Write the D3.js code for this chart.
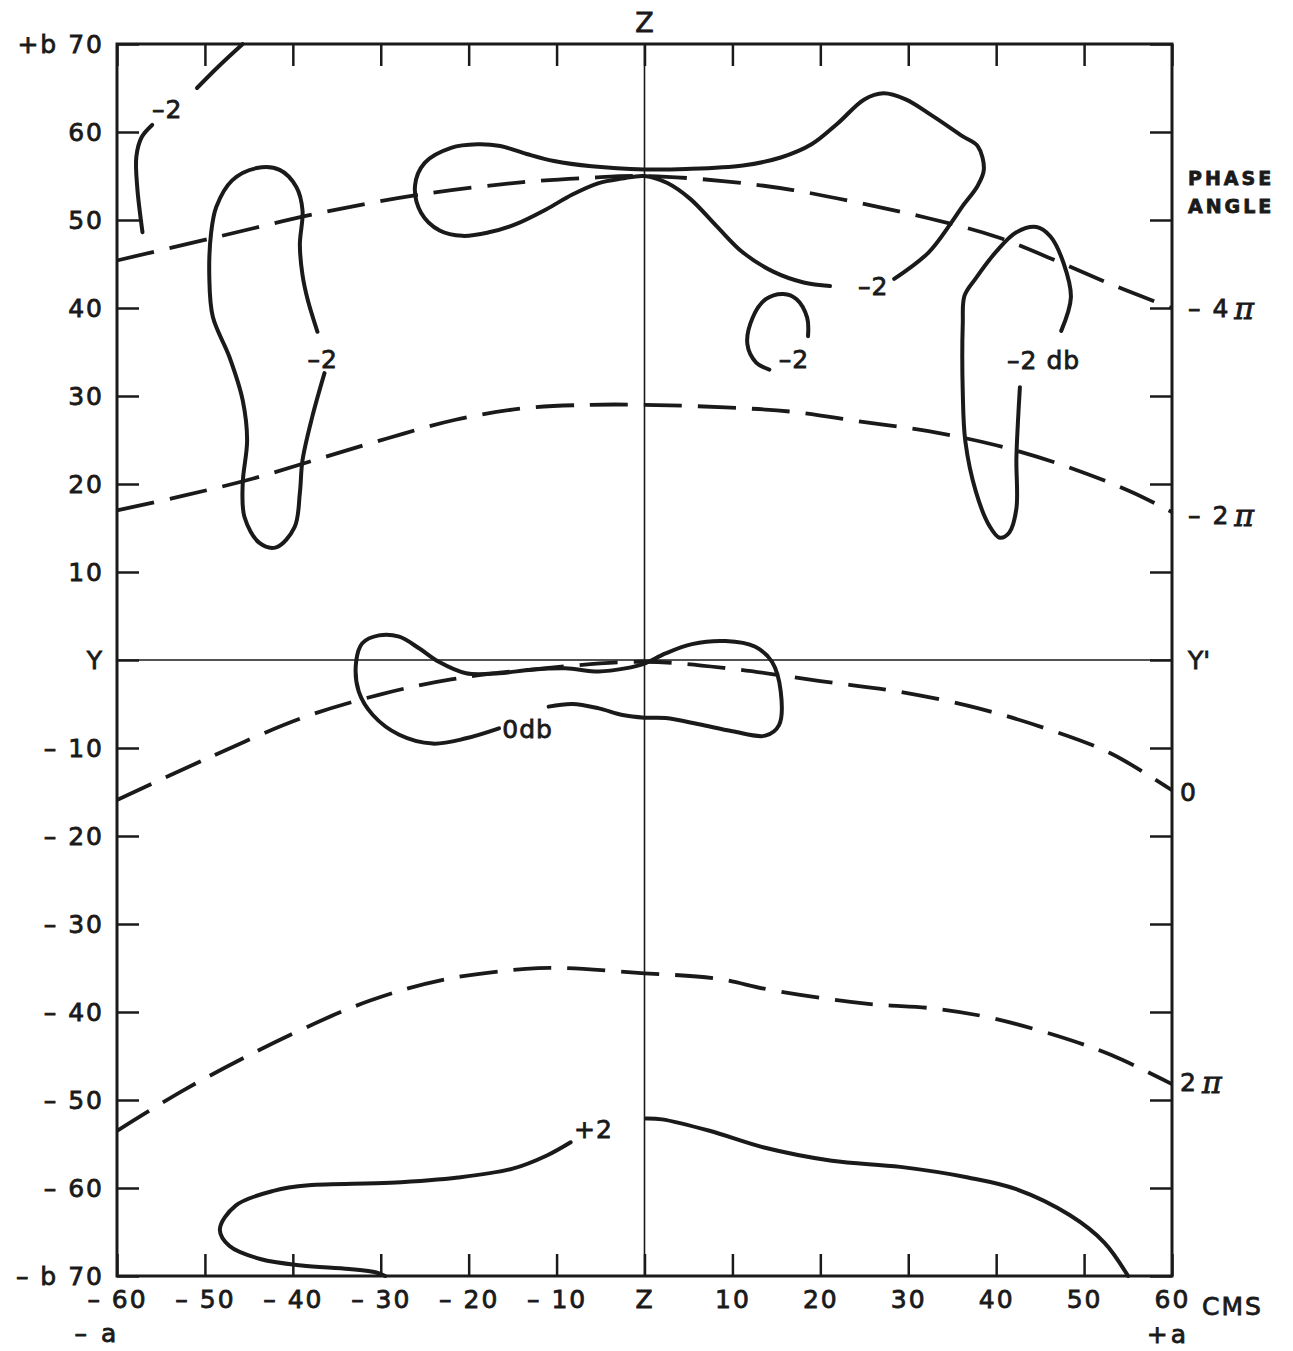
<!DOCTYPE html>
<html>
<head>
<meta charset="utf-8">
<title>Aperture field contours - amplitude and phase</title>
<script src="https://d3js.org/d3.v7.min.js" charset="utf-8"></script>
<style>
    html, body { margin: 0; padding: 0; background: #fff; }
    text { font-family: "DejaVu Sans", "Liberation Sans", sans-serif; fill: #1a1a1a; stroke: #1a1a1a; stroke-width: 0.8px; }
</style>
</head>
<body>
<div id="chart"></div>
<script>
// ---- tick values and labels ----
const xTicks = [-60, -50, -40, -30, -20, -10, 0, 10, 20, 30, 40, 50, 60];
const xTickLabels = ["\u2013 60", "\u2013 50", "\u2013 40", "\u2013 30", "\u2013 20", "\u2013 10", "Z", "10", "20", "30", "40", "50", "60"];
const yTicks = [70, 60, 50, 40, 30, 20, 10, 0, -10, -20, -30, -40, -50, -60, -70];
const yTickLabels = ["+b 70", "60", "50", "40", "30", "20", "10", "Y", "\u2013 10", "\u2013 20", "\u2013 30", "\u2013 40",
    "\u2013 50", "\u2013 60", "\u2013 b 70"];

// ---- phase angle contours (dashed), [x cm, y cm] ----
const phaseMinus4Pi = [[-60, 45.4], [-48.5, 48.1], [-36.9, 50.8], [-25.4, 52.9], [-13.8, 54.3], [-6.2, 54.8], [0, 55],
    [9.2, 54.4], [16.9, 53.4], [24.6, 51.9], [32.3, 50.2], [40, 48.1], [47.7, 45], [53.8, 42.4], [60, 40]];
const phaseMinus2Pi = [[-60, 17], [-52.3, 18.7], [-44.6, 20.6], [-36.9, 22.9], [-29.2, 25.2], [-21.5, 27.3], [-13.8, 28.6],
    [-6.2, 29], [0, 29], [9.2, 28.7], [16.9, 28.2], [24.6, 27.1], [32.3, 26], [40, 24.4], [47.7, 22.1], [55.4, 19.1], [60, 16.8]];
const phaseZero = [[-60, -15.9], [-50, -11.3], [-39, -6.6], [-30, -3.9], [-22, -2.2], [-12, -1], [0, -0.2],
    [10, -1], [20, -2.4], [29, -3.6], [38, -5.5], [46, -7.9], [53, -10.6], [60, -14.8]];
const phasePlus2Pi = [[-60, -53.5], [-52.1, -48.7], [-40.5, -42.7], [-31.2, -38.7], [-22.7, -36.3], [-13.5, -35.1], [-9.6, -35],
    [0, -35.6], [8.2, -36.2], [14.4, -37.5], [25.2, -39.05], [32.9, -39.6], [39.1, -40.6], [46.9, -42.7], [53.1, -44.9], [60, -48.2]];

// ---- amplitude contours (solid), [x cm, y cm] ----
const minus2TopLeftA = [[-57.1, 48.6], [-57.7, 53.75], [-57.8, 57.2], [-57.2, 59.4], [-56, 60.8]];
const minus2TopLeftB = [[-50.9, 65], [-48.4, 67.5], [-45.7, 70]];
const minus2LeftLoop = [[-37.2, 37.3], [-38.3, 40.9], [-38.9, 43.75], [-39.2, 47.2], [-38.9, 51.1], [-39.6, 53.75],
    [-41.5, 55.7], [-44.1, 55.9], [-46.9, 54.5], [-48.7, 51.5], [-49.3, 48.5], [-49.5, 43.5], [-49.1, 39], [-47.2, 34.4],
    [-45.7, 29.5], [-45.2, 25], [-45.7, 20.1], [-45.5, 16.25], [-43.8, 13.3], [-41.9, 12.8], [-39.8, 15.1], [-39.2, 19],
    [-38.9, 22.7], [-37.8, 27.6], [-36.4, 32.6]];
const minus2Centre = [[28.4, 43.3], [32.3, 46.3], [34.9, 49.7], [36.2, 51.6], [37.9, 53.9], [38.6, 55.75], [37.9, 58.4],
    [36.2, 59.5], [32.8, 61.8], [29.7, 63.7], [27.2, 64.4], [25, 63.7], [22, 61], [19, 58.6], [15.5, 57.1], [11.2, 56.2],
    [4.7, 55.8], [0, 55.75], [-6, 56.1], [-10.3, 56.7], [-13.4, 57.5], [-16.4, 58.4], [-19, 58.6], [-22, 58.2], [-25, 56.5],
    [-26.1, 53.9], [-25.4, 50.8], [-23.3, 48.8], [-20.7, 48.2], [-17.7, 48.6], [-14.7, 49.5], [-11.2, 51.2], [-8.2, 52.9],
    [-5.2, 54.2], [-2.6, 54.7], [0, 55], [2.6, 54.2], [5.2, 52.4], [8.2, 49.3], [11.2, 46.3], [14.7, 44.1], [18.1, 42.9],
    [21.1, 42.5]];
const minus2Small = [[18.6, 36.8], [18.5, 38.9], [17.3, 41], [15.8, 41.6], [13.8, 41], [12.3, 38.9], [11.7, 35.9],
    [12.7, 33.8], [14.2, 33]];
const minus2RightLoop = [[47.4, 37.4], [48.5, 41.2], [47.7, 45], [46.2, 48.1], [44.6, 49.2], [42.3, 48.6], [40, 46.4],
    [37.7, 43.4], [36.4, 41.4], [36.2, 38.2], [36.2, 30.5], [36.5, 24.8], [37.7, 19.1], [39.2, 15.3], [40.4, 13.9],
    [41.5, 14.5], [42.3, 17.2], [42.3, 22.9], [42.5, 27.5], [42.7, 31]];
const zeroDb = [[-16.55, -7.77], [-20.3, -8.9], [-24.1, -9.5], [-27.9, -8.5], [-30.9, -6.25], [-32.5, -3.6], [-32.8, -0.2],
    [-32.1, 1.9], [-30.2, 2.8], [-27.9, 2.65], [-25.6, 1.3], [-23.4, -0.2], [-20.3, -1.5], [-16.55, -1.5], [-12.8, -1.1],
    [-9, -0.95], [-5.2, -1.3], [-2.2, -0.95], [0, -0.4], [2.4, 0.75], [5.4, 1.8], [9.2, 2.15], [12.6, 1.5], [14.5, -0.2],
    [15.5, -3.6], [15.3, -7.4], [13.75, -8.6], [10, -8.1], [6.2, -7.3], [2.4, -6.6], [0, -6.55], [-2.5, -6.25],
    [-5.2, -5.5], [-8.2, -5.0], [-10.9, -5.3]];
const plus2Right = [[0.15, -52.1], [2, -52.2], [7.4, -53.5], [13.6, -55.4], [21.3, -56.9], [29.1, -57.6], [36.8, -58.8],
    [42.2, -60.1], [48.4, -63.1], [52.3, -66.2], [55, -70]];
const plus2Left = [[-8.4, -54.8], [-11.1, -56.3], [-15, -57.8], [-21.2, -58.8], [-28.9, -59.4], [-38.2, -59.7],
    [-42.1, -60.3], [-46.5, -62], [-48.3, -64.7], [-47.2, -66.6], [-43.6, -68.1], [-39, -68.8], [-33.6, -69.2],
    [-30.5, -69.6], [-29.5, -70]];

// contour labels
const contourLabels = [
    { text: "\u20132", x: -54.3, y: 62.6 },
    { text: "\u20132", x: -36.6, y: 34.1 },
    { text: "\u20132", x: 26.0, y: 42.4 },
    { text: "\u20132", x: 17.0, y: 34.1 },
    { text: "\u20132 db", x: 45.4, y: 34.0 },
    { text: "0db", x: -13.3, y: -7.9 },
    { text: "+2", x: -5.8, y: -53.4 }
];

// phase angle values at the right-hand ends of the dashed lines
const phaseNames = ["\u2013 4", "\u2013 2", "0", "2"];
const phasePi = [true, true, false, true];
const phaseEnds = [40, 16.5, -15, -48];

// ---- drawing ----
const width = 1293, height = 1351;
const svg = d3.select("#chart").append("svg")
    .attr("width", width)
    .attr("height", height);

const x = d3.scaleLinear().domain([-60, 60]).range([117, 1172]);
const y = d3.scaleLinear().domain([-70, 70]).range([1276, 44]);
const ink = "#1a1a1a";

// axes with inward ticks
const tickLen = -22;
const bottomAxis = svg.append("g")
    .attr("transform", `translate(0, ${y(-70)})`)
    .call(d3.axisBottom(x).tickValues(xTicks).tickFormat((d, i) => xTickLabels[i])
        .tickSizeInner(tickLen).tickSizeOuter(0).tickPadding(13));
const topAxis = svg.append("g")
    .attr("transform", `translate(0, ${y(70)})`)
    .call(d3.axisTop(x).tickValues(xTicks).tickFormat("").tickSizeInner(tickLen).tickSizeOuter(0));
const leftAxis = svg.append("g")
    .attr("transform", `translate(${x(-60)}, 0)`)
    .call(d3.axisLeft(y).tickValues(yTicks).tickFormat((d, i) => yTickLabels[i])
        .tickSizeInner(tickLen).tickSizeOuter(0).tickPadding(13));
const rightAxis = svg.append("g")
    .attr("transform", `translate(${x(60)}, 0)`)
    .call(d3.axisRight(y).tickValues(yTicks).tickFormat("").tickSizeInner(tickLen).tickSizeOuter(0));

[bottomAxis, topAxis, leftAxis, rightAxis].forEach(g => {
    g.select(".domain").remove();
    g.selectAll(".tick line").attr("stroke", ink).attr("stroke-width", 2.5);
    g.selectAll(".tick text")
        .attr("fill", ink)
        .style("font-size", "25px")
        .style("letter-spacing", "2px")
        .attr("font-family", null);
});
bottomAxis.selectAll(".tick text").attr("dy", "0.75em");

// frame
svg.append("rect")
    .attr("x", x(-60)).attr("y", y(70))
    .attr("width", x(60) - x(-60)).attr("height", y(-70) - y(70))
    .attr("fill", "none").attr("stroke", ink).attr("stroke-width", 3);

// Z-Z and Y-Y' centre lines
svg.append("line")
    .attr("x1", x(0)).attr("x2", x(0)).attr("y1", y(70)).attr("y2", y(-70))
    .attr("stroke", ink).attr("stroke-width", 1.6);
svg.append("line")
    .attr("x1", x(-60)).attr("x2", x(60)).attr("y1", y(0)).attr("y2", y(0))
    .attr("stroke", ink).attr("stroke-width", 1.6);

const line = d3.line()
    .x(d => x(d[0]))
    .y(d => y(d[1]))
    .curve(d3.curveCatmullRom.alpha(0.5));

// dashed phase lines
[phaseMinus4Pi, phaseMinus2Pi, phaseZero, phasePlus2Pi].forEach(pts => {
    svg.append("path")
        .datum(pts)
        .attr("d", line)
        .attr("fill", "none")
        .attr("stroke", ink)
        .attr("stroke-width", 3.8)
        .attr("stroke-dasharray", "38,16");
});

// solid amplitude contours
[minus2TopLeftA, minus2TopLeftB, minus2LeftLoop, minus2Centre, minus2Small, minus2RightLoop,
    zeroDb, plus2Right, plus2Left].forEach(pts => {
    svg.append("path")
        .datum(pts)
        .attr("d", line)
        .attr("fill", "none")
        .attr("stroke", ink)
        .attr("stroke-width", 4)
        .attr("stroke-linecap", "round");
});

// contour labels
svg.selectAll(".clabel")
    .data(contourLabels)
    .enter()
    .append("text")
    .attr("class", "clabel")
    .attr("x", d => x(d.x))
    .attr("y", d => y(d.y))
    .attr("text-anchor", "middle")
    .attr("dominant-baseline", "central")
    .style("font-size", "25px")
    .style("letter-spacing", "1px")
    .text(d => d.text);

// top Z label
svg.append("text")
    .attr("x", x(0)).attr("y", 22)
    .attr("text-anchor", "middle").attr("dominant-baseline", "central")
    .style("font-size", "27px")
    .text("Z");

// CMS and -a / +a
svg.append("text")
    .attr("x", x(60) + 30).attr("y", y(-70) + 30)
    .attr("dominant-baseline", "central")
    .style("font-size", "25px").style("letter-spacing", "2px")
    .text("CMS");
svg.append("text")
    .attr("x", x(-60) - 20).attr("y", 1333)
    .attr("text-anchor", "middle").attr("dominant-baseline", "central")
    .style("font-size", "25px").style("letter-spacing", "3px")
    .text("\u2013 a");
svg.append("text")
    .attr("x", x(60) - 4).attr("y", 1334)
    .attr("text-anchor", "middle").attr("dominant-baseline", "central")
    .style("font-size", "25px").style("letter-spacing", "3px")
    .text("+a");

// right side: phase angle
svg.append("text")
    .attr("x", x(60) + 16).attr("y", 178)
    .attr("dominant-baseline", "central")
    .style("font-size", "19px").style("letter-spacing", "3px").style("font-weight", "bold")
    .text("PHASE");
svg.append("text")
    .attr("x", x(60) + 16).attr("y", 206)
    .attr("dominant-baseline", "central")
    .style("font-size", "19px").style("letter-spacing", "3px").style("font-weight", "bold")
    .text("ANGLE");
svg.append("text")
    .attr("x", x(60) + 16).attr("y", y(0))
    .attr("dominant-baseline", "central")
    .style("font-size", "25px")
    .text("Y'");

phaseEnds.forEach((v, i) => {
    const t = svg.append("text")
        .attr("x", x(60) + (phaseNames[i].startsWith("\u2013") ? 16 : 8))
        .attr("y", y(v))
        .attr("dominant-baseline", "central")
        .style("font-size", "25px")
        .style("letter-spacing", "2px");
    t.append("tspan").text(phaseNames[i]);
    if (phasePi[i]) {
        t.append("tspan")
            .attr("dx", 4)
            .style("font-family", "'DejaVu Serif', serif")
            .style("font-style", "italic")
            .style("font-size", "30px")
            .text("\u03c0");
    }
});
</script>
</body>
</html>
